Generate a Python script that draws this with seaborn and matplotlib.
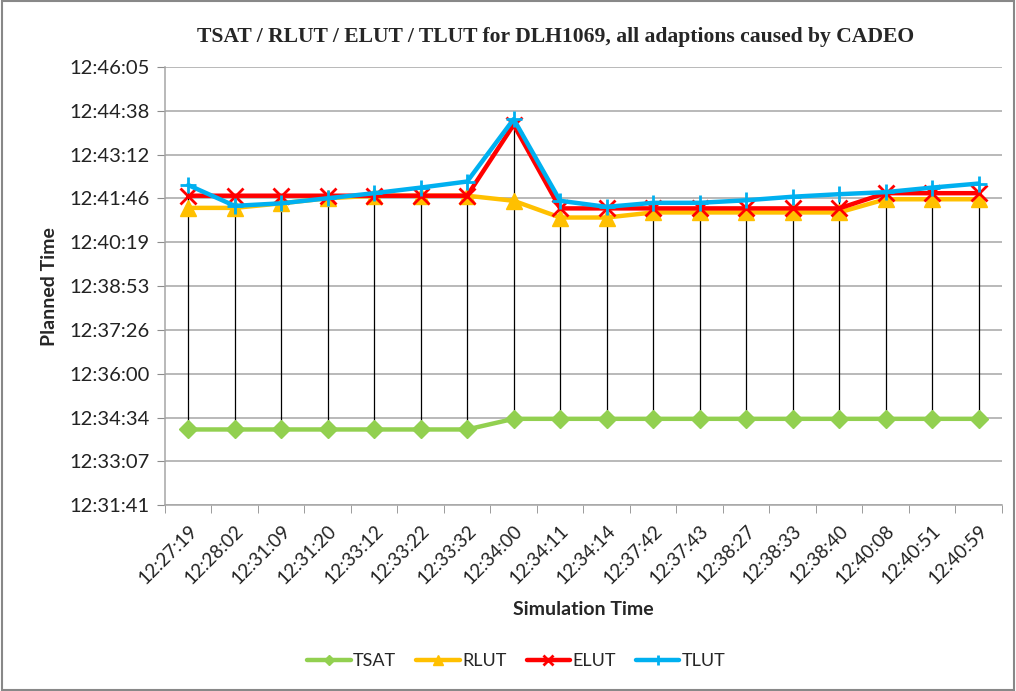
import numpy as np
import pandas as pd
import seaborn as sns
import matplotlib.pyplot as plt
from matplotlib.ticker import FixedLocator, FuncFormatter

# simulation times (x categories)
sim_times = ['12:27:19', '12:28:02', '12:31:09', '12:31:20', '12:33:12', '12:33:22',
             '12:33:32', '12:34:00', '12:34:11', '12:34:14', '12:37:42', '12:37:43',
             '12:38:27', '12:38:33', '12:38:40', '12:40:08', '12:40:51', '12:40:59']

# planned times
tsat = ['12:34:10', '12:34:10', '12:34:10', '12:34:10', '12:34:10', '12:34:10',
        '12:34:10', '12:34:31', '12:34:31', '12:34:31', '12:34:31', '12:34:31',
        '12:34:31', '12:34:31', '12:34:31', '12:34:31', '12:34:31', '12:34:31']
rlut = ['12:41:27', '12:41:27', '12:41:36', '12:41:46', '12:41:51', '12:41:51',
        '12:41:51', '12:41:41', '12:41:08', '12:41:08', '12:41:18', '12:41:18',
        '12:41:18', '12:41:18', '12:41:18', '12:41:44', '12:41:44', '12:41:44']
elut = ['12:41:51', '12:41:51', '12:41:51', '12:41:51', '12:41:51', '12:41:51',
        '12:41:51', '12:44:11', '12:41:26', '12:41:26', '12:41:26', '12:41:26',
        '12:41:26', '12:41:26', '12:41:26', '12:41:56', '12:41:56', '12:41:56']
tlut = ['12:42:12', '12:41:31', '12:41:36', '12:41:46', '12:41:56', '12:42:07',
        '12:42:19', '12:44:22', '12:41:41', '12:41:29', '12:41:37', '12:41:37',
        '12:41:42', '12:41:49', '12:41:54', '12:41:58', '12:42:07', '12:42:15']

series = ['TSAT', 'RLUT', 'ELUT', 'TLUT']
colors = ['#92D050', '#FFC000', '#FF0000', '#00B0F0']
markers = ['D', '^', 'x', '+']


def to_sec(t):
    h, m, s = [int(v) for v in t.split(':')]
    return h * 3600 + m * 60 + s


def fmt(v, pos=None):
    v = int(round(v))
    return '%d:%02d:%02d' % (v // 3600, (v % 3600) // 60, v % 60)


df = pd.DataFrame({'Simulation Time': sim_times,
                   'TSAT': [to_sec(t) for t in tsat],
                   'RLUT': [to_sec(t) for t in rlut],
                   'ELUT': [to_sec(t) for t in elut],
                   'TLUT': [to_sec(t) for t in tlut]})
df['pos'] = range(len(df))
long = df.melt(id_vars=['Simulation Time', 'pos'], value_vars=series,
               var_name='series', value_name='Planned Time')

sns.set_style('white')
plt.rcParams['font.family'] = ['Lato', 'DejaVu Sans']

fig = plt.figure(figsize=(10.16, 6.91), dpi=100)
ax = fig.add_axes([0.1624, 0.269, 0.8236, 0.634])

# high-low lines
hi = df[series].max(axis=1)
lo = df[series].min(axis=1)
ax.vlines(df['pos'], lo, hi, color='black', lw=0.9, zorder=1)

for name, c, m in zip(series, colors, markers):
    d = long[long['series'] == name]
    ms = 9 if m == 'D' else 12
    sns.lineplot(data=d, x='pos', y='Planned Time', ax=ax, color=c, lw=3.2,
                 marker=m, markersize=ms, markeredgecolor=c,
                 markeredgewidth=2 if m in ('x', '+') else 1, label=name, zorder=3)

ymin = to_sec('12:31:41') - 0.2
ax.set_ylim(ymin, ymin + 864)
ax.yaxis.set_major_locator(FixedLocator([ymin + 86.4 * k for k in range(11)]))
ax.yaxis.set_major_formatter(FuncFormatter(fmt))
ax.grid(axis='y', color='#A6A6A6', lw=1.1)
ax.set_xlim(-0.5, len(df) - 0.5)
ax.set_xticks(df['pos'])
ax.set_xticklabels(sim_times, rotation=45, ha='right', rotation_mode='anchor',
                   fontsize=13.5, color='#222222')
ax.set_xticks(np.arange(-0.5, len(df)), minor=True)
ax.tick_params(axis='x', which='major', length=0, pad=12)
ax.tick_params(axis='x', which='minor', length=6, color='#8C8C8C', direction='out', bottom=True)
ax.tick_params(axis='y', length=6, color='#8C8C8C', labelsize=14.5, left=True,
               direction='out', pad=5, labelcolor='#222222')
for s in ['top', 'right']:
    ax.spines[s].set_visible(False)
for s in ['left', 'bottom']:
    ax.spines[s].set_color('#A6A6A6')
    ax.spines[s].set_linewidth(1.1)

ax.set_xlabel('Simulation Time', fontsize=14, fontweight='bold', labelpad=10)
ax.set_ylabel('Planned Time', fontsize=14, fontweight='bold', labelpad=8)
fig.text(0.547, 0.946, 'TSAT / RLUT / ELUT / TLUT for DLH1069, all adaptions caused by CADEO',
         ha='center', va='center', fontsize=15.6, fontweight='bold', family='Liberation Serif')

ax.legend(loc='center', bbox_to_anchor=(0.42, -0.356), ncol=4, frameon=False,
          fontsize=13, markerscale=0.6, handlelength=2.4, handletextpad=0.15,
          columnspacing=1.1)

fig.patches.append(plt.Rectangle((0.002, 0.002), 0.996, 0.996, transform=fig.transFigure,
                                 fill=False, edgecolor='#888888', lw=1.5))
fig.savefig('out.png', dpi=100)
